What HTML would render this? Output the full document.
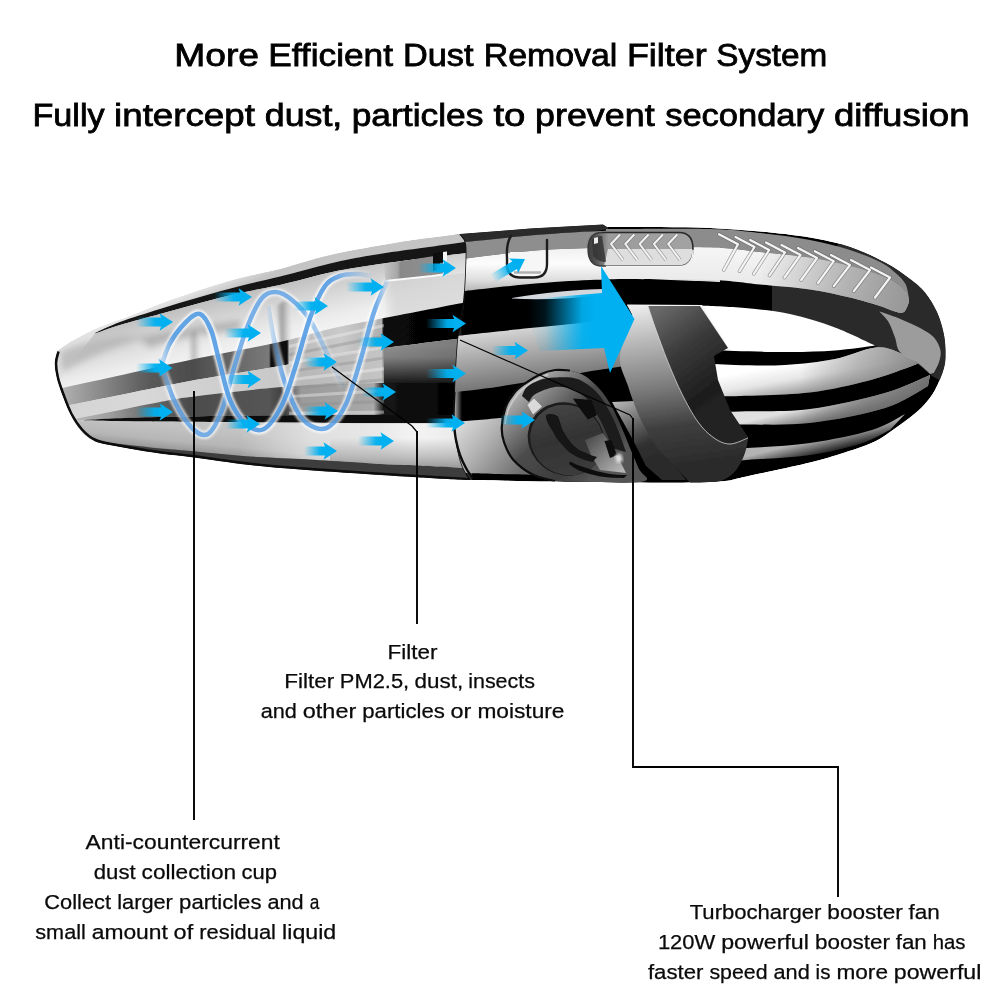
<!DOCTYPE html>
<html lang="en">
<head>
<meta charset="utf-8">
<title>More Efficient Dust Removal Filter System</title>
<style>
html,body{margin:0;padding:0;background:#fff;}
body{width:1000px;height:1000px;overflow:hidden;position:relative;}
svg{display:block;position:absolute;left:0;top:0;}
text{font-family:"Liberation Sans",sans-serif;fill:#000;}
.t1 text{font-size:32px;stroke:#000;stroke-width:0.8px;}
.t2 text{font-size:20.5px;fill:#0a0a0a;stroke:#0a0a0a;stroke-width:0.25px;}
</style>
</head>
<body>
<svg width="1000" height="1000" viewBox="0 0 1000 1000">
<defs>
<filter id="b1" x="-5%" y="-5%" width="110%" height="110%"><feGaussianBlur stdDeviation="0.6"/></filter>
<filter id="b1g" x="-10%" y="-10%" width="120%" height="120%"><feGaussianBlur stdDeviation="1.1"/></filter>
<filter id="b2" x="-10%" y="-10%" width="120%" height="120%"><feGaussianBlur stdDeviation="1.5"/></filter>
<filter id="b3" x="-20%" y="-20%" width="140%" height="140%"><feGaussianBlur stdDeviation="3"/></filter>
<filter id="b5" x="-30%" y="-30%" width="160%" height="160%"><feGaussianBlur stdDeviation="5"/></filter>
<clipPath id="cl_all"><path d="M57 351C59.2 349.5 65.3 344.8 70 342C74.7 339.2 80 336.5 85 334C90 331.5 92.5 330 100 327C107.5 324 120 319.8 130 316C140 312.2 148.3 308.3 160 304C171.7 299.7 186.7 294.3 200 290C213.3 285.7 226.7 281.5 240 278C253.3 274.5 265 272.8 280 269C295 265.2 310 259.5 330 255C350 250.5 378.3 245.5 400 242C421.7 238.5 450 235.3 460 234L530 228.5L603 224.5L607 227C615.8 227 642.8 226.8 660 227C677.2 227.2 693.3 227.2 710 228C726.7 228.8 743.3 229.9 760 231.5C776.7 233.1 795 234.9 810 237.5C825 240.1 837.5 242.8 850 247C862.5 251.2 875 257.2 885 262.5C895 267.8 903.3 274 910 279C916.7 284 920.5 287 925 292.5C929.5 298 933.9 305.3 937 312C940.1 318.7 942.1 326.2 943.5 332.5C944.9 338.8 945.4 344.1 945.5 350C945.6 355.9 945.8 361.3 944 368C942.2 374.7 938.3 383.8 935 390C931.7 396.2 928.2 400.4 924 405C919.8 409.6 915.7 413 910 417.5C904.3 422 896.2 427.8 890 432C883.8 436.2 880.8 438.8 872.5 442.5C864.2 446.2 850.4 450.7 840 454C829.6 457.3 821.3 459.7 810 462.5C798.7 465.3 783.7 468.4 772 471C760.3 473.6 747.8 476.3 740 478C732.2 479.7 732.5 480.2 725 481C717.5 481.8 710.8 482.2 695 482.5C679.2 482.8 654.2 482.7 630 482.5C605.8 482.3 576.7 481.9 550 481.5C523.3 481.1 483.3 480.2 470 480C461.7 480 435 478.4 420 477.5C405 476.6 391.7 475.8 380 475C368.3 474.2 363.3 473.9 350 473C336.7 472.1 316.7 470.8 300 469.5C283.3 468.2 268.3 467.1 250 465C231.7 462.9 205 458.9 190 457C175 455.1 168.8 454.7 160 453.5C151.2 452.3 145 451.2 137.5 450C130 448.8 122.2 447.5 115 446C107.8 444.5 99.8 443.6 94 441C88.2 438.4 84.5 435 80.5 430.5C76.5 426 73 419.8 70 414C67 408.2 64.8 402 62.5 396C60.2 390 57.8 383.5 56.5 378C55.2 372.5 54.4 367.5 54.5 363C54.6 358.5 56.6 353 57 351Z"/></clipPath>
<clipPath id="cl_cup"><path d="M57 351C59.2 349.5 65.3 344.8 70 342C74.7 339.2 80 336.5 85 334C90 331.5 92.5 330 100 327C107.5 324 120 319.8 130 316C140 312.2 148.3 308.3 160 304C171.7 299.7 186.7 294.3 200 290C213.3 285.7 226.7 281.5 240 278C253.3 274.5 265 272.8 280 269C295 265.2 310 259.5 330 255C350 250.5 378.3 245.5 400 242C421.7 238.5 450 235.3 460 234L460 234C461 235.7 465 238 466 244C467 250 466.3 260.7 466 270C465.7 279.3 465.3 288.3 464 300C462.7 311.7 459.5 325 458 340C456.5 355 455.7 376.7 455 390C454.3 403.3 453.7 410.8 454 420C454.3 429.2 455.7 437.5 457 445C458.3 452.5 459.8 459.2 462 465C464.2 470.8 468.7 477.5 470 480L470 480.5C461.7 480 435 478.4 420 477.5C405 476.6 391.7 475.8 380 475C368.3 474.2 363.3 473.9 350 473C336.7 472.1 316.7 470.8 300 469.5C283.3 468.2 268.3 467.1 250 465C231.7 462.9 205 458.9 190 457C175 455.1 168.8 454.7 160 453.5C151.2 452.3 145 451.2 137.5 450C130 448.8 122.2 447.5 115 446C107.8 444.5 99.8 443.6 94 441C88.2 438.4 84.5 435 80.5 430.5C76.5 426 73 419.8 70 414C67 408.2 64.8 402 62.5 396C60.2 390 57.8 383.5 56.5 378C55.2 372.5 54.4 367.5 54.5 363C54.6 358.5 56.6 353 57 351Z"/></clipPath>
<linearGradient id="gBase" x1="452" y1="0" x2="462" y2="0" gradientUnits="userSpaceOnUse"><stop offset="0" stop-color="#e6e6e6"/><stop offset="1" stop-color="#000"/></linearGradient>
<linearGradient id="gCupBase" x1="0" y1="0" x2="0" y2="1" gradientUnits="objectBoundingBox"><stop offset="0" stop-color="#fff"/><stop offset="1" stop-color="#d4d4d4"/></linearGradient>
<linearGradient id="gA" x1="120" y1="300" x2="132" y2="330" gradientUnits="userSpaceOnUse"><stop offset="0" stop-color="#ffffff"/><stop offset="0.5" stop-color="#ececec"/><stop offset="1" stop-color="#c4c4c4"/></linearGradient>
<linearGradient id="gC" x1="200" y1="300" x2="216" y2="365" gradientUnits="userSpaceOnUse"><stop offset="0" stop-color="#bcbcbc"/><stop offset="0.35" stop-color="#d6d6d6"/><stop offset="0.7" stop-color="#ececec"/><stop offset="1" stop-color="#f6f6f6"/></linearGradient>
<linearGradient id="gTube" x1="276" y1="0" x2="294" y2="0" gradientUnits="userSpaceOnUse"><stop offset="0" stop-color="#8a8a8a" stop-opacity="0.2"/><stop offset="0.35" stop-color="#8a8a8a" stop-opacity="0.75"/><stop offset="0.7" stop-color="#c8c8c8" stop-opacity="0.5"/><stop offset="1" stop-color="#fff" stop-opacity="0"/></linearGradient>
<linearGradient id="gTube2" x1="188" y1="0" x2="204" y2="0" gradientUnits="userSpaceOnUse"><stop offset="0" stop-color="#9a9a9a" stop-opacity="0.1"/><stop offset="0.4" stop-color="#9a9a9a" stop-opacity="0.6"/><stop offset="1" stop-color="#fff" stop-opacity="0"/></linearGradient>
<linearGradient id="gFt" x1="384" y1="0" x2="450" y2="0" gradientUnits="userSpaceOnUse"><stop offset="0" stop-color="#c4c4c4"/><stop offset="0.2" stop-color="#a8a8a8"/><stop offset="0.25" stop-color="#8a8a8a"/><stop offset="0.7" stop-color="#8e8e8e"/><stop offset="1" stop-color="#8a8a8a"/></linearGradient>
<linearGradient id="gCr" x1="384" y1="0" x2="470" y2="0" gradientUnits="userSpaceOnUse"><stop offset="0" stop-color="#bbb" stop-opacity="0"/><stop offset="0.15" stop-color="#ccc" stop-opacity="0.6"/><stop offset="1" stop-color="#d4d4d4" stop-opacity="0.75"/></linearGradient>
<linearGradient id="gD" x1="60" y1="0" x2="462" y2="0" gradientUnits="userSpaceOnUse"><stop offset="0" stop-color="#b4b4b4"/><stop offset="0.06" stop-color="#9a9a9a"/><stop offset="0.14" stop-color="#7a7a7a"/><stop offset="0.22" stop-color="#5a5a5a"/><stop offset="0.33" stop-color="#4c4c4c"/><stop offset="0.42" stop-color="#636363"/><stop offset="0.52" stop-color="#7a7a7a"/><stop offset="0.525" stop-color="#0c0c0c"/><stop offset="0.565" stop-color="#0c0c0c"/><stop offset="0.57" stop-color="#b8b8b8"/><stop offset="0.7" stop-color="#cacaca"/><stop offset="0.8" stop-color="#b0b0b0"/><stop offset="0.805" stop-color="#0a0a0a"/><stop offset="1" stop-color="#000"/></linearGradient>
<linearGradient id="gE" x1="60" y1="0" x2="462" y2="0" gradientUnits="userSpaceOnUse"><stop offset="0" stop-color="#d4d4d4"/><stop offset="0.2" stop-color="#d8d8d8"/><stop offset="0.4" stop-color="#cecece"/><stop offset="0.56" stop-color="#c8c8c8"/><stop offset="0.6" stop-color="#b8b8b8"/><stop offset="0.8" stop-color="#c4c4c4"/><stop offset="0.805" stop-color="#909090"/><stop offset="1" stop-color="#7a7a7a"/></linearGradient>
<linearGradient id="gEr" x1="0" y1="345" x2="0" y2="386" gradientUnits="userSpaceOnUse"><stop offset="0" stop-color="#000" stop-opacity="0"/><stop offset="0.3" stop-color="#000" stop-opacity="0.1"/><stop offset="1" stop-color="#000" stop-opacity="0.9"/></linearGradient>
<linearGradient id="gF" x1="60" y1="0" x2="462" y2="0" gradientUnits="userSpaceOnUse"><stop offset="0" stop-color="#c0c0c0"/><stop offset="0.12" stop-color="#a0a0a0"/><stop offset="0.22" stop-color="#6a6a6a"/><stop offset="0.32" stop-color="#4c4c4c"/><stop offset="0.52" stop-color="#555"/><stop offset="0.56" stop-color="#3c3c3c"/><stop offset="0.6" stop-color="#9a9a9a"/><stop offset="0.78" stop-color="#a8a8a8"/><stop offset="0.805" stop-color="#151515"/><stop offset="1" stop-color="#000"/></linearGradient>
<clipPath id="cl_filt"><path d="M289 341L384 319L384 416L289 416Z"/></clipPath>
<linearGradient id="gH" x1="250" y1="422" x2="246" y2="462" gradientUnits="userSpaceOnUse"><stop offset="0" stop-color="#c6c6c6"/><stop offset="0.3" stop-color="#c2c2c2"/><stop offset="0.65" stop-color="#b6b6b6"/><stop offset="0.85" stop-color="#9c9c9c"/><stop offset="1" stop-color="#4a4a4a"/></linearGradient>
<linearGradient id="gHr" x1="240" y1="0" x2="472" y2="0" gradientUnits="userSpaceOnUse"><stop offset="0" stop-color="#fff" stop-opacity="0"/><stop offset="0.3" stop-color="#fff" stop-opacity="0.45"/><stop offset="0.6" stop-color="#fff" stop-opacity="0.6"/><stop offset="0.75" stop-color="#fff" stop-opacity="0.8"/><stop offset="1" stop-color="#fff" stop-opacity="0.6"/></linearGradient>
<linearGradient id="gHv" x1="0" y1="438" x2="0" y2="468" gradientUnits="userSpaceOnUse"><stop offset="0" stop-color="#9a9a9a" stop-opacity="0"/><stop offset="0.6" stop-color="#9c9c9c" stop-opacity="0.55"/><stop offset="1" stop-color="#909090" stop-opacity="0.9"/></linearGradient>
<clipPath id="cl_body"><path d="M460 234C461 235.7 465 238 466 244C467 250 466.3 260.7 466 270C465.7 279.3 465.3 288.3 464 300C462.7 311.7 459.5 325 458 340C456.5 355 455.7 376.7 455 390C454.3 403.3 453.7 410.8 454 420C454.3 429.2 455.7 437.5 457 445C458.3 452.5 459.8 459.2 462 465C464.2 470.8 468.7 477.5 470 480L720 490L720 215L460 215Z"/></clipPath>
<linearGradient id="gBl" x1="0" y1="250" x2="0" y2="290" gradientUnits="userSpaceOnUse"><stop offset="0" stop-color="#f2f2f2"/><stop offset="0.35" stop-color="#fcfcfc"/><stop offset="0.75" stop-color="#dedede"/><stop offset="1" stop-color="#b8b8b8"/></linearGradient>
<linearGradient id="gBg" x1="540" y1="325" x2="548" y2="385" gradientUnits="userSpaceOnUse"><stop offset="0" stop-color="#d6d6d6"/><stop offset="0.35" stop-color="#b0b0b0"/><stop offset="1" stop-color="#6e6e6e"/></linearGradient>
<linearGradient id="gBb" x1="456" y1="420" x2="520" y2="475" gradientUnits="userSpaceOnUse"><stop offset="0" stop-color="#e0e0e0"/><stop offset="0.45" stop-color="#b0b0b0"/><stop offset="1" stop-color="#6c6c6c"/></linearGradient>
<linearGradient id="gHs" x1="0" y1="0" x2="0" y2="1" gradientUnits="objectBoundingBox"><stop offset="0" stop-color="#f6f6f6"/><stop offset="0.6" stop-color="#e8e8e8"/><stop offset="1" stop-color="#c6c6c6"/></linearGradient>
<linearGradient id="gHsr" x1="760" y1="0" x2="905" y2="0" gradientUnits="userSpaceOnUse"><stop offset="0" stop-color="#9a9a9a" stop-opacity="0"/><stop offset="0.6" stop-color="#9c9c9c" stop-opacity="0.7"/><stop offset="1" stop-color="#989898" stop-opacity="1"/></linearGradient>
<linearGradient id="gW1" x1="800" y1="362" x2="806" y2="396" gradientUnits="userSpaceOnUse"><stop offset="0" stop-color="#ffffff"/><stop offset="0.45" stop-color="#e6e6e6"/><stop offset="1" stop-color="#8e8e8e"/></linearGradient>
<linearGradient id="gW1r" x1="800" y1="0" x2="920" y2="0" gradientUnits="userSpaceOnUse"><stop offset="0" stop-color="#8a8a8a" stop-opacity="0"/><stop offset="0.5" stop-color="#909090" stop-opacity="0.6"/><stop offset="1" stop-color="#808080" stop-opacity="0.9"/></linearGradient>
<linearGradient id="gW2" x1="800" y1="409" x2="804" y2="426" gradientUnits="userSpaceOnUse"><stop offset="0" stop-color="#e0e0e0"/><stop offset="1" stop-color="#707070"/></linearGradient>
<linearGradient id="gW2r" x1="800" y1="0" x2="930" y2="0" gradientUnits="userSpaceOnUse"><stop offset="0" stop-color="#6e6e6e" stop-opacity="0"/><stop offset="0.5" stop-color="#707070" stop-opacity="0.65"/><stop offset="1" stop-color="#6a6a6a" stop-opacity="0.95"/></linearGradient>
<linearGradient id="gW3" x1="800" y1="443" x2="804" y2="459" gradientUnits="userSpaceOnUse"><stop offset="0" stop-color="#b4b4b4"/><stop offset="0.5" stop-color="#6a6a6a"/><stop offset="1" stop-color="#1e1e1e"/></linearGradient>
<linearGradient id="gS" x1="620" y1="400" x2="650" y2="466" gradientUnits="userSpaceOnUse"><stop offset="0" stop-color="#b4b4b4"/><stop offset="0.45" stop-color="#5a5a5a"/><stop offset="0.7" stop-color="#303030"/><stop offset="1" stop-color="#2a2a2a"/></linearGradient>
<linearGradient id="gFanO" x1="510" y1="395" x2="590" y2="480" gradientUnits="userSpaceOnUse"><stop offset="0" stop-color="#b8b8b8"/><stop offset="0.18" stop-color="#8a8a8a"/><stop offset="0.45" stop-color="#4c4c4c"/><stop offset="0.8" stop-color="#3c3c3c"/><stop offset="1" stop-color="#555"/></linearGradient>
<linearGradient id="gFanT" x1="540" y1="372" x2="600" y2="392" gradientUnits="userSpaceOnUse"><stop offset="0" stop-color="#6a6a6a"/><stop offset="1" stop-color="#444"/></linearGradient>
<linearGradient id="gFanI" x1="535" y1="405" x2="600" y2="470" gradientUnits="userSpaceOnUse"><stop offset="0" stop-color="#4a4a4a"/><stop offset="0.5" stop-color="#333"/><stop offset="1" stop-color="#3e3e3e"/></linearGradient>
<linearGradient id="gFanL" x1="588" y1="436" x2="622" y2="470" gradientUnits="userSpaceOnUse"><stop offset="0" stop-color="#4a4a4a"/><stop offset="0.6" stop-color="#8a8a8a"/><stop offset="1" stop-color="#b4b4b4"/></linearGradient>
<linearGradient id="gGrip" x1="640" y1="306" x2="662" y2="470" gradientUnits="userSpaceOnUse"><stop offset="0" stop-color="#ececec"/><stop offset="0.2" stop-color="#bcbcbc"/><stop offset="0.5" stop-color="#7c7c7c"/><stop offset="0.75" stop-color="#3e3e3e"/><stop offset="1" stop-color="#2a2a2a"/></linearGradient>
<linearGradient id="gGrip2" x1="655" y1="310" x2="735" y2="420" gradientUnits="userSpaceOnUse"><stop offset="0" stop-color="#6a6a6a"/><stop offset="0.35" stop-color="#3a3a3a"/><stop offset="0.7" stop-color="#1e1e1e"/><stop offset="1" stop-color="#242424"/></linearGradient>
<linearGradient id="gSl" x1="588" y1="0" x2="692" y2="0" gradientUnits="userSpaceOnUse"><stop offset="0" stop-color="#3a3a3a"/><stop offset="0.08" stop-color="#555"/><stop offset="0.17" stop-color="#8c8c8c"/><stop offset="0.2" stop-color="#9c9c9c"/><stop offset="1" stop-color="#a2a2a2"/></linearGradient>
<linearGradient id="hw0" x1="156" y1="0" x2="347" y2="0" gradientUnits="userSpaceOnUse"><stop offset="0" stop-color="#ffffff" stop-opacity="0"/><stop offset="0.08" stop-color="#ffffff" stop-opacity="0.68"/><stop offset="0.75" stop-color="#ffffff" stop-opacity="0.68"/><stop offset="1" stop-color="#ffffff" stop-opacity="0"/></linearGradient>
<linearGradient id="hb0" x1="156" y1="0" x2="347" y2="0" gradientUnits="userSpaceOnUse"><stop offset="0" stop-color="#3088e0" stop-opacity="0"/><stop offset="0.08" stop-color="#3088e0" stop-opacity="0.629"/><stop offset="0.75" stop-color="#3088e0" stop-opacity="0.629"/><stop offset="1" stop-color="#3088e0" stop-opacity="0"/></linearGradient>
<linearGradient id="hw1" x1="265" y1="0" x2="391" y2="0" gradientUnits="userSpaceOnUse"><stop offset="0" stop-color="#ffffff" stop-opacity="0"/><stop offset="0.15" stop-color="#ffffff" stop-opacity="0.7200000000000001"/><stop offset="0.88" stop-color="#ffffff" stop-opacity="0.7200000000000001"/><stop offset="1" stop-color="#ffffff" stop-opacity="0"/></linearGradient>
<linearGradient id="hb1" x1="265" y1="0" x2="391" y2="0" gradientUnits="userSpaceOnUse"><stop offset="0" stop-color="#3088e0" stop-opacity="0"/><stop offset="0.15" stop-color="#3088e0" stop-opacity="0.666"/><stop offset="0.88" stop-color="#3088e0" stop-opacity="0.666"/><stop offset="1" stop-color="#3088e0" stop-opacity="0"/></linearGradient>
<linearGradient id="hw2" x1="156" y1="0" x2="375" y2="0" gradientUnits="userSpaceOnUse"><stop offset="0" stop-color="#ffffff" stop-opacity="0"/><stop offset="0.08" stop-color="#ffffff" stop-opacity="0.8"/><stop offset="0.8" stop-color="#ffffff" stop-opacity="0.8"/><stop offset="1" stop-color="#ffffff" stop-opacity="0"/></linearGradient>
<linearGradient id="hb2" x1="156" y1="0" x2="375" y2="0" gradientUnits="userSpaceOnUse"><stop offset="0" stop-color="#3088e0" stop-opacity="0"/><stop offset="0.08" stop-color="#3088e0" stop-opacity="0.74"/><stop offset="0.8" stop-color="#3088e0" stop-opacity="0.74"/><stop offset="1" stop-color="#3088e0" stop-opacity="0"/></linearGradient>
<linearGradient id="ga44" x1="214" y1="0" x2="240" y2="0" gradientUnits="userSpaceOnUse"><stop offset="0" stop-color="#00b0f0" stop-opacity="0"/><stop offset="0.75" stop-color="#00b0f0" stop-opacity="0.95"/><stop offset="1" stop-color="#00b0f0" stop-opacity="1"/></linearGradient>
<linearGradient id="ga45" x1="136" y1="0" x2="161" y2="0" gradientUnits="userSpaceOnUse"><stop offset="0" stop-color="#00b0f0" stop-opacity="0"/><stop offset="0.75" stop-color="#00b0f0" stop-opacity="0.95"/><stop offset="1" stop-color="#00b0f0" stop-opacity="1"/></linearGradient>
<linearGradient id="ga46" x1="136" y1="0" x2="160.5" y2="0" gradientUnits="userSpaceOnUse"><stop offset="0" stop-color="#00b0f0" stop-opacity="0"/><stop offset="0.75" stop-color="#00b0f0" stop-opacity="0.95"/><stop offset="1" stop-color="#00b0f0" stop-opacity="1"/></linearGradient>
<linearGradient id="ga47" x1="136" y1="0" x2="161" y2="0" gradientUnits="userSpaceOnUse"><stop offset="0" stop-color="#00b0f0" stop-opacity="0"/><stop offset="0.75" stop-color="#00b0f0" stop-opacity="0.95"/><stop offset="1" stop-color="#00b0f0" stop-opacity="1"/></linearGradient>
<linearGradient id="ga48" x1="224" y1="0" x2="249" y2="0" gradientUnits="userSpaceOnUse"><stop offset="0" stop-color="#00b0f0" stop-opacity="0"/><stop offset="0.75" stop-color="#00b0f0" stop-opacity="0.95"/><stop offset="1" stop-color="#00b0f0" stop-opacity="1"/></linearGradient>
<linearGradient id="ga49" x1="226" y1="0" x2="249" y2="0" gradientUnits="userSpaceOnUse"><stop offset="0" stop-color="#00b0f0" stop-opacity="0"/><stop offset="0.75" stop-color="#00b0f0" stop-opacity="0.95"/><stop offset="1" stop-color="#00b0f0" stop-opacity="1"/></linearGradient>
<linearGradient id="ga50" x1="226" y1="0" x2="248" y2="0" gradientUnits="userSpaceOnUse"><stop offset="0" stop-color="#00b0f0" stop-opacity="0"/><stop offset="0.75" stop-color="#00b0f0" stop-opacity="0.95"/><stop offset="1" stop-color="#00b0f0" stop-opacity="1"/></linearGradient>
<linearGradient id="ga51" x1="294" y1="0" x2="316" y2="0" gradientUnits="userSpaceOnUse"><stop offset="0" stop-color="#00b0f0" stop-opacity="0"/><stop offset="0.75" stop-color="#00b0f0" stop-opacity="0.95"/><stop offset="1" stop-color="#00b0f0" stop-opacity="1"/></linearGradient>
<linearGradient id="ga52" x1="304" y1="0" x2="325" y2="0" gradientUnits="userSpaceOnUse"><stop offset="0" stop-color="#00b0f0" stop-opacity="0"/><stop offset="0.75" stop-color="#00b0f0" stop-opacity="0.95"/><stop offset="1" stop-color="#00b0f0" stop-opacity="1"/></linearGradient>
<linearGradient id="ga53" x1="304" y1="0" x2="326" y2="0" gradientUnits="userSpaceOnUse"><stop offset="0" stop-color="#00b0f0" stop-opacity="0"/><stop offset="0.75" stop-color="#00b0f0" stop-opacity="0.95"/><stop offset="1" stop-color="#00b0f0" stop-opacity="1"/></linearGradient>
<linearGradient id="ga54" x1="304" y1="0" x2="325" y2="0" gradientUnits="userSpaceOnUse"><stop offset="0" stop-color="#00b0f0" stop-opacity="0"/><stop offset="0.75" stop-color="#00b0f0" stop-opacity="0.95"/><stop offset="1" stop-color="#00b0f0" stop-opacity="1"/></linearGradient>
<linearGradient id="ga55" x1="346" y1="0" x2="372" y2="0" gradientUnits="userSpaceOnUse"><stop offset="0" stop-color="#00b0f0" stop-opacity="0"/><stop offset="0.75" stop-color="#00b0f0" stop-opacity="0.95"/><stop offset="1" stop-color="#00b0f0" stop-opacity="1"/></linearGradient>
<linearGradient id="ga56" x1="358" y1="0" x2="382" y2="0" gradientUnits="userSpaceOnUse"><stop offset="0" stop-color="#00b0f0" stop-opacity="0"/><stop offset="0.75" stop-color="#00b0f0" stop-opacity="0.95"/><stop offset="1" stop-color="#00b0f0" stop-opacity="1"/></linearGradient>
<linearGradient id="ga57" x1="362" y1="0" x2="384" y2="0" gradientUnits="userSpaceOnUse"><stop offset="0" stop-color="#00b0f0" stop-opacity="0"/><stop offset="0.75" stop-color="#00b0f0" stop-opacity="0.95"/><stop offset="1" stop-color="#00b0f0" stop-opacity="1"/></linearGradient>
<linearGradient id="ga58" x1="358" y1="0" x2="382" y2="0" gradientUnits="userSpaceOnUse"><stop offset="0" stop-color="#00b0f0" stop-opacity="0"/><stop offset="0.75" stop-color="#00b0f0" stop-opacity="0.95"/><stop offset="1" stop-color="#00b0f0" stop-opacity="1"/></linearGradient>
<linearGradient id="ga59" x1="418" y1="0" x2="444" y2="0" gradientUnits="userSpaceOnUse"><stop offset="0" stop-color="#00b0f0" stop-opacity="0"/><stop offset="0.75" stop-color="#00b0f0" stop-opacity="0.95"/><stop offset="1" stop-color="#00b0f0" stop-opacity="1"/></linearGradient>
<linearGradient id="ga60" x1="426" y1="0" x2="454" y2="0" gradientUnits="userSpaceOnUse"><stop offset="0" stop-color="#00b0f0" stop-opacity="0"/><stop offset="0.75" stop-color="#00b0f0" stop-opacity="0.95"/><stop offset="1" stop-color="#00b0f0" stop-opacity="1"/></linearGradient>
<linearGradient id="ga61" x1="426" y1="0" x2="454" y2="0" gradientUnits="userSpaceOnUse"><stop offset="0" stop-color="#00b0f0" stop-opacity="0"/><stop offset="0.75" stop-color="#00b0f0" stop-opacity="0.95"/><stop offset="1" stop-color="#00b0f0" stop-opacity="1"/></linearGradient>
<linearGradient id="ga62" x1="426" y1="0" x2="453" y2="0" gradientUnits="userSpaceOnUse"><stop offset="0" stop-color="#00b0f0" stop-opacity="0"/><stop offset="0.75" stop-color="#00b0f0" stop-opacity="0.95"/><stop offset="1" stop-color="#00b0f0" stop-opacity="1"/></linearGradient>
<linearGradient id="ga63" x1="492" y1="0" x2="516" y2="0" gradientUnits="userSpaceOnUse"><stop offset="0" stop-color="#00b0f0" stop-opacity="0"/><stop offset="0.75" stop-color="#00b0f0" stop-opacity="0.95"/><stop offset="1" stop-color="#00b0f0" stop-opacity="1"/></linearGradient>
<linearGradient id="ga64" x1="500" y1="0" x2="523" y2="0" gradientUnits="userSpaceOnUse"><stop offset="0" stop-color="#00b0f0" stop-opacity="0"/><stop offset="0.75" stop-color="#00b0f0" stop-opacity="0.95"/><stop offset="1" stop-color="#00b0f0" stop-opacity="1"/></linearGradient>
<linearGradient id="ga65" x1="487" y1="0" x2="513" y2="0" gradientUnits="userSpaceOnUse"><stop offset="0" stop-color="#00b0f0" stop-opacity="0"/><stop offset="0.75" stop-color="#00b0f0" stop-opacity="0.95"/><stop offset="1" stop-color="#00b0f0" stop-opacity="1"/></linearGradient>
<linearGradient id="gBig" x1="528" y1="0" x2="596" y2="0" gradientUnits="userSpaceOnUse"><stop offset="0" stop-color="#00b0f0" stop-opacity="0"/><stop offset="0.25" stop-color="#00b0f0" stop-opacity="0.12"/><stop offset="0.8" stop-color="#00b0f0" stop-opacity="0.95"/><stop offset="1" stop-color="#00b0f0" stop-opacity="1"/></linearGradient>
</defs>
<rect width="1000" height="1000" fill="#fff"/>
<g id="vac" filter="url(#b1)">
<g clip-path="url(#cl_all)">
<path d="M57 351C59.2 349.5 65.3 344.8 70 342C74.7 339.2 80 336.5 85 334C90 331.5 92.5 330 100 327C107.5 324 120 319.8 130 316C140 312.2 148.3 308.3 160 304C171.7 299.7 186.7 294.3 200 290C213.3 285.7 226.7 281.5 240 278C253.3 274.5 265 272.8 280 269C295 265.2 310 259.5 330 255C350 250.5 378.3 245.5 400 242C421.7 238.5 450 235.3 460 234L530 228.5L603 224.5L607 227C615.8 227 642.8 226.8 660 227C677.2 227.2 693.3 227.2 710 228C726.7 228.8 743.3 229.9 760 231.5C776.7 233.1 795 234.9 810 237.5C825 240.1 837.5 242.8 850 247C862.5 251.2 875 257.2 885 262.5C895 267.8 903.3 274 910 279C916.7 284 920.5 287 925 292.5C929.5 298 933.9 305.3 937 312C940.1 318.7 942.1 326.2 943.5 332.5C944.9 338.8 945.4 344.1 945.5 350C945.6 355.9 945.8 361.3 944 368C942.2 374.7 938.3 383.8 935 390C931.7 396.2 928.2 400.4 924 405C919.8 409.6 915.7 413 910 417.5C904.3 422 896.2 427.8 890 432C883.8 436.2 880.8 438.8 872.5 442.5C864.2 446.2 850.4 450.7 840 454C829.6 457.3 821.3 459.7 810 462.5C798.7 465.3 783.7 468.4 772 471C760.3 473.6 747.8 476.3 740 478C732.2 479.7 732.5 480.2 725 481C717.5 481.8 710.8 482.2 695 482.5C679.2 482.8 654.2 482.7 630 482.5C605.8 482.3 576.7 481.9 550 481.5C523.3 481.1 483.3 480.2 470 480C461.7 480 435 478.4 420 477.5C405 476.6 391.7 475.8 380 475C368.3 474.2 363.3 473.9 350 473C336.7 472.1 316.7 470.8 300 469.5C283.3 468.2 268.3 467.1 250 465C231.7 462.9 205 458.9 190 457C175 455.1 168.8 454.7 160 453.5C151.2 452.3 145 451.2 137.5 450C130 448.8 122.2 447.5 115 446C107.8 444.5 99.8 443.6 94 441C88.2 438.4 84.5 435 80.5 430.5C76.5 426 73 419.8 70 414C67 408.2 64.8 402 62.5 396C60.2 390 57.8 383.5 56.5 378C55.2 372.5 54.4 367.5 54.5 363C54.6 358.5 56.6 353 57 351Z" fill="url(#gBase)"/>
<g clip-path="url(#cl_cup)">
<path d="M57 351C59.2 349.5 65.3 344.8 70 342C74.7 339.2 80 336.5 85 334C90 331.5 92.5 330 100 327C107.5 324 120 319.8 130 316C140 312.2 148.3 308.3 160 304C171.7 299.7 186.7 294.3 200 290C213.3 285.7 226.7 281.5 240 278C253.3 274.5 265 272.8 280 269C295 265.2 310 259.5 330 255C350 250.5 378.3 245.5 400 242C421.7 238.5 450 235.3 460 234L460 234C461 235.7 465 238 466 244C467 250 466.3 260.7 466 270C465.7 279.3 465.3 288.3 464 300C462.7 311.7 459.5 325 458 340C456.5 355 455.7 376.7 455 390C454.3 403.3 453.7 410.8 454 420C454.3 429.2 455.7 437.5 457 445C458.3 452.5 459.8 459.2 462 465C464.2 470.8 468.7 477.5 470 480L470 480.5C461.7 480 435 478.4 420 477.5C405 476.6 391.7 475.8 380 475C368.3 474.2 363.3 473.9 350 473C336.7 472.1 316.7 470.8 300 469.5C283.3 468.2 268.3 467.1 250 465C231.7 462.9 205 458.9 190 457C175 455.1 168.8 454.7 160 453.5C151.2 452.3 145 451.2 137.5 450C130 448.8 122.2 447.5 115 446C107.8 444.5 99.8 443.6 94 441C88.2 438.4 84.5 435 80.5 430.5C76.5 426 73 419.8 70 414C67 408.2 64.8 402 62.5 396C60.2 390 57.8 383.5 56.5 378C55.2 372.5 54.4 367.5 54.5 363C54.6 358.5 56.6 353 57 351Z" fill="#e2e2e2"/>
<path d="M40 345C50 340.5 73.3 328.5 100 318C126.7 307.5 161.7 293.8 200 282C238.3 270.2 284.7 256.7 330 247C375.3 237.3 448.3 227.8 472 224L472 241C461.7 242.4 427 247.1 410 249.5C393 251.9 383.3 253.2 370 255.5C356.7 257.8 345 260 330 263.5C315 267 295 272.8 280 276.5C265 280.2 253.3 282.6 240 286C226.7 289.4 213.3 293.2 200 297C186.7 300.8 173.3 304.8 160 309C146.7 313.2 130.8 318 120 322C109.2 326 99.2 331.2 95 333Z" fill="url(#gA)"/>
<path d="M95 333C99.2 331.2 109.2 326 120 322C130.8 318 146.7 313.2 160 309C173.3 304.8 186.7 300.8 200 297C213.3 293.2 226.7 289.4 240 286C253.3 282.6 265 280.2 280 276.5C295 272.8 315 267 330 263.5C345 260 356.7 257.8 370 255.5C383.3 253.2 393 251.9 410 249.5C427 247.1 461.7 242.4 472 241L472 252.5C461.7 253.8 427 257.8 410 260C393 262.2 383.3 263.4 370 265.5C356.7 267.6 345 269.2 330 272.5C315 275.8 295 281.6 280 285C265 288.4 253.3 290 240 293C226.7 296 213.3 299.5 200 303C186.7 306.5 173.3 310.3 160 314C146.7 317.7 130.8 321.7 120 325C109.2 328.3 99.2 332.2 95 333.6Z" fill="#161616"/>
<path d="M95 333.6C99.2 332.2 109.2 328.3 120 325C130.8 321.7 146.7 317.7 160 314C173.3 310.3 186.7 306.5 200 303C213.3 299.5 226.7 296 240 293C253.3 290 265 288.4 280 285C295 281.6 315 275.8 330 272.5C345 269.2 356.7 267.6 370 265.5C383.3 263.4 393 262.2 410 260C427 257.8 461.7 253.8 472 252.5L472 301C457.3 303.8 407.7 313.3 384 318C360.3 322.7 347.3 325 330 329C312.7 333 303.3 336.8 280 342C256.7 347.2 217.5 354.2 190 360C162.5 365.8 136.2 371.8 115 376.5C93.8 381.2 73.3 385.6 62.5 388C51.7 390.4 52.1 390.5 50 391Z" fill="url(#gC)"/>
<path d="M140 338C160 332 200 326 240 320L240 330C200 334 165 340 150 348Z" fill="#9a9a9a" opacity="0.6" filter="url(#b3)"/>
<path d="M60 352C75 345 95 340 120 336L150 336C120 345 90 356 62 372Z" fill="#b0b0b0" opacity="0.7" filter="url(#b3)"/>
<path d="M277 306Q285 298 293 303L291 342L280 345Z" fill="url(#gTube)" filter="url(#b2)"/>
<path d="M189 336Q196 326 203 332L203 362L190 365Z" fill="url(#gTube2)" filter="url(#b2)"/>
<path d="M384 264L447 254L447 274L432 276L385.500 281Z" fill="url(#gFt)"/>
<path d="M433 253L447 251L447 262L440 263L440 270L433 271Z" fill="#0e0e0e"/>
<path d="M443 252L447 251.500L447 277L443 277.500Z" fill="#f4f4f4"/>
<path d="M385.500 281L432 276L447 274" fill="none" stroke="#fafafa" stroke-width="1.8"/>
<path d="M385.5 282C393.2 281.2 417.6 278.7 432 277C446.4 275.3 465.3 272.8 472 272L472 301C457.3 303.8 398.7 315.2 384 318Z" fill="url(#gCr)"/>
<path d="M50 391C52.1 390.5 51.7 390.4 62.5 388C73.3 385.6 93.8 381.2 115 376.5C136.2 371.8 162.5 365.8 190 360C217.5 354.2 256.7 347.2 280 342C303.3 336.8 312.7 333 330 329C347.3 325 360.3 322.7 384 318C407.7 313.3 457.3 303.8 472 301L472 337C457.3 338.8 407.7 345 384 348C360.3 351 347.3 352 330 355C312.7 358 303.3 361.7 280 366C256.7 370.3 217.5 376 190 381C162.5 386 135 392 115 396C95 400 80.8 402.8 70 405C59.2 407.2 53.3 408.3 50 409Z" fill="url(#gD)"/>
<path d="M50 409C53.3 408.3 59.2 407.2 70 405C80.8 402.8 95 400 115 396C135 392 162.5 386 190 381C217.5 376 256.7 370.3 280 366C303.3 361.7 312.7 358 330 355C347.3 352 360.3 351 384 348C407.7 345 457.3 338.8 472 337L472 383C457.3 383 407.7 382.8 384 383C360.3 383.2 349 383.2 330 384C311 384.8 293.3 385.8 270 388C246.7 390.2 208.3 394.7 190 397C171.7 399.3 172.5 399.7 160 402C147.5 404.3 128.8 408.2 115 411C101.2 413.8 88.3 416.3 77.5 418.5C66.7 420.7 54.6 423.1 50 424Z" fill="url(#gE)"/>
<path d="M384 348C398.7 346.2 457.3 338.8 472 337L462 386C449 386 397 386 384 386Z" fill="url(#gEr)"/>
<path d="M50 424C54.6 423.1 66.7 420.7 77.5 418.5C88.3 416.3 101.2 413.8 115 411C128.8 408.2 147.5 404.3 160 402C172.5 399.7 171.7 399.3 190 397C208.3 394.7 246.7 390.2 270 388C293.3 385.8 311 384.8 330 384C349 383.2 360.3 383.2 384 383C407.7 382.8 457.3 383 472 383L472 415C455.8 415 410.3 414.9 375 415C339.7 415.1 299.2 415.1 260 415.5C220.8 415.9 169.3 416.8 140 417.5C110.7 418.2 93.3 419.6 84 420Z" fill="url(#gF)"/>
<g clip-path="url(#cl_filt)" filter="url(#b1)">
<path d="M286 347L387 324.8" stroke="#f2f2f2" stroke-width="3.2" stroke-opacity="0.4" fill="none"/>
<path d="M286 355.3L387 335.7" stroke="#8c8c8c" stroke-width="3.2" stroke-opacity="0.4" fill="none"/>
<path d="M286 363.6L387 346.6" stroke="#f2f2f2" stroke-width="3.2" stroke-opacity="0.4" fill="none"/>
<path d="M286 371.9L387 357.6" stroke="#8c8c8c" stroke-width="3.2" stroke-opacity="0.4" fill="none"/>
<path d="M286 380.2L387 368.5" stroke="#f2f2f2" stroke-width="3.2" stroke-opacity="0.4" fill="none"/>
<path d="M286 388.5L387 379.4" stroke="#8c8c8c" stroke-width="3.2" stroke-opacity="0.4" fill="none"/>
<path d="M286 396.8L387 390.3" stroke="#f2f2f2" stroke-width="3.2" stroke-opacity="0.4" fill="none"/>
<path d="M286 405.1L387 401.3" stroke="#8c8c8c" stroke-width="3.2" stroke-opacity="0.4" fill="none"/>
<path d="M286 413.4L387 412.2" stroke="#f2f2f2" stroke-width="3.2" stroke-opacity="0.4" fill="none"/>
</g>
<path d="M84 420C93.3 419.6 110.7 418.2 140 417.5C169.3 416.8 220.8 415.9 260 415.5C299.2 415.1 339.7 415.1 375 415C410.3 414.9 455.8 415 472 415L472 423C455.8 423 410.3 423.1 375 423C339.7 422.9 299.2 422.8 260 422.5C220.8 422.2 169.3 421.8 140 421.5C110.7 421.2 93.3 420.7 84 420.5Z" fill="#070707"/>
<path d="M60 421C64 420.9 70.7 420.4 84 420.5C97.3 420.6 110.7 421.2 140 421.5C169.3 421.8 220.8 422.2 260 422.5C299.2 422.8 339.7 422.9 375 423C410.3 423.1 455.8 423 472 423L470 485C455 484 408.3 481 380 479C351.7 477 321.7 474.7 300 473C278.3 471.3 268.3 471 250 469C231.7 467 211.7 464.2 190 461C168.3 457.8 137.2 453.5 120 450C102.8 446.5 97 444.3 87 440C77 435.7 64.5 426.7 60 424Z" fill="url(#gH)"/>
<path d="M240 423C263.3 423.1 341.3 423.4 380 423.5C418.7 423.6 456.7 423.5 472 423.5L472 473C456.7 471.7 400.3 466.8 380 465C359.7 463.2 363.3 463 350 462C336.7 461 318.3 460 300 459C281.7 458 250 456.5 240 456Z" fill="url(#gHr)"/>
<path d="M330 436C353.7 436.3 448.3 437.7 472 438L472 468.5C463.3 468 435.3 466.2 420 465.5C404.7 464.8 395 464.8 380 464C365 463.2 338.3 461.5 330 461Z" fill="url(#gHv)"/>
</g>
<path d="M94 440.5C97.5 441 107.8 442.6 115 443.5C122.2 444.4 130 445.2 137.5 446C145 446.8 151.2 447.7 160 448.5C168.8 449.3 175 449.7 190 451C205 452.3 231.7 455.2 250 456.5C268.3 457.8 283.3 458.1 300 459C316.7 459.9 336.7 461.2 350 462C363.3 462.8 368.3 463.4 380 464C391.7 464.6 404.7 464.8 420 465.5C435.3 466.2 463.3 468 472 468.5L472 481.5C456.7 480.6 400.3 477.2 380 476C359.7 474.8 363.3 474.9 350 474C336.7 473.1 316.7 471.8 300 470.5C283.3 469.2 268.3 468.1 250 466C231.7 463.9 205 459.9 190 458C175 456.1 168.8 455.7 160 454.5C151.2 453.3 145 452.2 137.5 451C130 449.8 122.2 448.5 115 447C107.8 445.5 97.5 442.8 94 442Z" fill="#3c3c3c" filter="url(#b1)"/>
<path d="M58.5 351.5C58.1 353.4 56.1 358.6 56 363C55.9 367.4 56.7 372.5 58 378C59.3 383.5 61.8 390 64 396C66.2 402 68.5 408.4 71.5 414C74.5 419.6 78.1 425.2 82 429.5C85.9 433.8 89.5 437.2 95 439.8C100.5 442.4 107.9 443.3 115 444.8C122.1 446.3 130 447.6 137.5 448.8C145 450.1 151.2 451.1 160 452.3C168.8 453.5 175 453.9 190 455.8C205 457.7 231.7 461.7 250 463.8C268.3 465.9 283.3 467 300 468.3C316.7 469.6 336.7 470.9 350 471.8C363.3 472.7 368.3 473.1 380 473.8C391.7 474.6 405 475.4 420 476.3C435 477.2 461.7 478.8 470 479.3" fill="none" stroke="#0a0a0a" stroke-width="2.6" stroke-linejoin="round"/>
<path d="M460 234C461 235.7 465 238 466 244C467 250 466.3 260.7 466 270C465.7 279.3 465.3 288.3 464 300C462.7 311.7 459.5 325 458 340C456.5 355 455.7 376.7 455 390C454.3 403.3 453.7 410.8 454 420C454.3 429.2 455.7 437.5 457 445C458.3 452.5 459.8 459.2 462 465C464.2 470.8 468.7 477.5 470 480" fill="none" stroke="#111" stroke-width="1.6"/>
<g clip-path="url(#cl_body)">
<path d="M455 220C467.5 219.7 505.8 218.7 530 218C554.2 217.3 587 216.3 600 216C613 215.7 606.7 216 608 216L608 229C605 229.4 603 230.4 590 231.5C577 232.6 552.5 233.6 530 235.5C507.5 237.4 467.5 241.8 455 243Z" fill="#2b2b2b"/>
<path d="M455 243C467.5 241.8 507.5 237.4 530 235.5C552.5 233.6 571.7 232.4 590 231.5C608.3 230.6 618.3 229.9 640 230C661.7 230.1 706.7 231.7 720 232L720 250C706.7 249.7 661.7 248.3 640 248C618.3 247.7 608.3 247.5 590 248C571.7 248.5 552.5 249 530 251C507.5 253 467.5 258.5 455 260Z" fill="#8e8e8e"/>
<path d="M455 260C467.5 258.5 507.5 253 530 251C552.5 249 571.7 248.5 590 248C608.3 247.5 618.3 247.7 640 248C661.7 248.3 706.7 249.7 720 250L720 282C706.7 281.5 661.7 279.3 640 279C618.3 278.7 608.3 279.2 590 280C571.7 280.8 552.5 282 530 284C507.5 286 467.5 290.7 455 292Z" fill="url(#gBl)"/>
<path d="M455 336C467.5 334.7 507.5 330.3 530 328C552.5 325.7 571.7 324.3 590 322C608.3 319.7 631.7 315.3 640 314L640 364C631 365.3 609.3 368.2 586 372C562.7 375.8 521.8 383.2 500 386.5C478.2 389.8 462.5 391.1 455 392Z" fill="url(#gBg)"/>
<path d="M455 422C462.5 421.3 485.8 419.5 500 418C514.2 416.5 523.3 415.3 540 413C556.7 410.7 590 405.5 600 404L600 477C590 476.7 556.7 475.5 540 475C523.3 474.5 514.2 474.3 500 474C485.8 473.7 462.5 473.2 455 473Z" fill="url(#gBb)"/>
<path d="M512 298C545 292 580 289.5 604 289L604 295C570 299 540 300 512 298.6Z" fill="#d4d8dc"/>
</g>
<path d="M772 284L850 238L960 238L960 392L932 376L918 364L900 353L875 346L835 327.500L790 314L772 311Z" fill="#2b2b2b"/>
<path d="M606 229C623.3 229 684.3 228.3 710 229C735.7 229.7 743.3 231.2 760 233C776.7 234.8 795 237.2 810 240C825 242.8 838.3 246.3 850 250C861.7 253.7 872.5 258.2 880 262C887.5 265.8 890.8 268.8 895 272.5C899.2 276.2 903.2 279.8 905.5 284C907.8 288.2 908.4 295.7 909 298L909 300C908.4 298.7 907.8 294.8 905.5 292C903.2 289.2 899.2 285.8 895 283C890.8 280.2 887.5 278.3 880 275.5C872.5 272.7 861.7 269 850 266C838.3 263 825 259.8 810 257.5C795 255.2 776.7 253.7 760 252C743.3 250.3 735.7 248.2 710 247.5C684.3 246.8 623.3 247.9 606 248Z" fill="#8c8c8c"/>
<path d="M606 248C623.3 247.9 684.3 246.8 710 247.5C735.7 248.2 743.3 250.3 760 252C776.7 253.7 795 255.2 810 257.5C825 259.8 838.3 263 850 266C861.7 269 872.5 272.7 880 275.5C887.5 278.3 890.8 280.2 895 283C899.2 285.8 903.2 289.2 905.5 292C907.8 294.8 908.4 298.7 909 300L909 302C908.2 303.7 906.3 310.4 904 312C901.7 313.6 899 312.5 895 311.5C891 310.5 887.5 308.3 880 306C872.5 303.7 861.7 300.2 850 297.5C838.3 294.8 825 291.7 810 289.5C795 287.3 776.7 286.1 760 284.5C743.3 282.9 735.7 280.9 710 280C684.3 279.1 623.3 279.2 606 279Z" fill="url(#gHs)"/>
<path d="M606 248C623.3 247.9 684.3 246.8 710 247.5C735.7 248.2 743.3 250.3 760 252C776.7 253.7 795 255.2 810 257.5C825 259.8 838.3 263 850 266C861.7 269 872.5 272.7 880 275.5C887.5 278.3 890.8 280.2 895 283C899.2 285.8 903.2 289.2 905.5 292C907.8 294.8 908.4 298.7 909 300L909 302C908.2 303.7 906.3 310.4 904 312C901.7 313.6 899 312.5 895 311.5C891 310.5 887.5 308.3 880 306C872.5 303.7 861.7 300.2 850 297.5C838.3 294.8 825 291.7 810 289.5C795 287.3 776.7 286.1 760 284.5C743.3 282.9 735.7 280.9 710 280C684.3 279.1 623.3 279.2 606 279Z" fill="url(#gHsr)"/>
<path d="M719 234.2L738 244.2L723.8 270M735.5 237L754.5 247L739.5 271.2M750.2 240L769.2 250L753.8 273.8M766 242.5L785 252.5L769.5 275.5M781.5 245L800.5 255L784.5 277.5M798 248L817 258L801.2 280M814.8 251.2L833.8 261.2L818 283M831 255L850 265L833.8 286.2M851 260L870 270L853.8 291.2M871 267.5L890 277.5L875 297.5" fill="none" stroke="#555" stroke-width="3.6" stroke-linejoin="round" stroke-linecap="round" opacity="0.55"/>
<path d="M719 234.2L738 244.2L723.8 270M735.5 237L754.5 247L739.5 271.2M750.2 240L769.2 250L753.8 273.8M766 242.5L785 252.5L769.5 275.5M781.5 245L800.5 255L784.5 277.5M798 248L817 258L801.2 280M814.8 251.2L833.8 261.2L818 283M831 255L850 265L833.8 286.2M851 260L870 270L853.8 291.2M871 267.5L890 277.5L875 297.5" fill="none" stroke="#f4f4f4" stroke-width="2.2" stroke-linejoin="round" stroke-linecap="round"/>
<path d="M879.4 311.6C883.1 312.9 894.6 316.6 901.5 319.4C908.4 322.2 915.6 325.5 921 328.5C926.4 331.5 930.8 333.9 934 337.6C937.2 341.3 939.7 346.5 940.5 350.6C941.3 354.7 940.1 358.3 939 362C937.9 365.7 934.8 370.9 934 372.7L930 374C928.1 372.3 923.4 367.3 918.4 363.6C913.4 359.9 903.9 356.3 900 352C896.1 347.7 896.9 342.6 895 337.6C893.1 332.6 891.1 326.3 888.5 322C885.9 317.7 880.9 313.3 879.4 311.6Z" fill="#9c9c9c"/>
<path d="M700 305.5C707.5 305.9 730 306.6 745 308C760 309.4 775 310.8 790 314C805 317.2 820.8 322.2 835 327.5C849.2 332.8 868.3 342.5 875 345.5L875 345.5C868.3 346.3 849.2 349.4 835 350.5C820.8 351.6 806.7 351.9 790 352C773.3 352.1 750 351.4 735 351C720 350.6 705.8 349.8 700 349.5Z" fill="#fff"/>
<path d="M627 304.5L702 305L730 350L650 350Z" fill="#f4f4f4"/>
<path d="M700 363C705.8 363.3 720.8 364.7 735 365C749.2 365.3 768.3 366 785 365C801.7 364 819.9 361.9 835 359C850.1 356.1 864.7 348.5 875.5 347.5C886.3 346.5 892.9 350.3 900 353C907.1 355.7 915 361.8 918 363.6L918 363.6C916.3 364.2 916.2 364.7 908 367.5C899.8 370.3 885.3 376.3 869 380.5C852.7 384.7 831.5 389.9 810 392.5C788.5 395.1 758.3 395.4 740 396C721.7 396.6 706.7 396 700 396Z" fill="url(#gW1)"/>
<path d="M700 363C705.8 363.3 720.8 364.7 735 365C749.2 365.3 768.3 366 785 365C801.7 364 819.9 361.9 835 359C850.1 356.1 864.7 348.5 875.5 347.5C886.3 346.5 892.9 350.3 900 353C907.1 355.7 915 361.8 918 363.6L918 363.6C916.3 364.2 916.2 364.7 908 367.5C899.8 370.3 885.3 376.3 869 380.5C852.7 384.7 831.5 389.9 810 392.5C788.5 395.1 758.3 395.4 740 396C721.7 396.6 706.7 396 700 396Z" fill="url(#gW1r)"/>
<path d="M700 412C706.7 411.9 721.7 412 740 411.5C758.3 411 785.8 412.1 810 409C834.2 405.9 865 398.7 885 393C905 387.3 922.5 378 930 375L928 386C920.8 389.7 904.7 401.8 885 408C865.3 414.2 834.2 420.2 810 423C785.8 425.8 758.3 424.2 740 424.5C721.7 424.8 706.7 424.9 700 425Z" fill="url(#gW2)"/>
<path d="M700 412C706.7 411.9 721.7 412 740 411.5C758.3 411 785.8 412.1 810 409C834.2 405.9 865 398.7 885 393C905 387.3 922.5 378 930 375L928 386C920.8 389.7 904.7 401.8 885 408C865.3 414.2 834.2 420.2 810 423C785.8 425.8 758.3 424.2 740 424.5C721.7 424.8 706.7 424.9 700 425Z" fill="url(#gW2r)"/>
<path d="M700 450C707.8 449.7 728.7 449.2 747 448C765.3 446.8 789.2 446 810 443C830.8 440 856.2 434.8 872 430C887.8 425.2 899.5 416.7 905 414L890 430C885 432.3 873.3 439.8 860 444C846.7 448.2 828.8 452.3 810 455C791.2 457.7 765.3 458.8 747 460C728.7 461.2 707.8 461.7 700 462Z" fill="url(#gW3)"/>
<path d="M612 402L634 401L641 418L657 446L675 466L686 480L662 480L646 466L634 442L622 420Z" fill="url(#gS)"/>
<path d="M501.8 427C502 421.2 503.4 413.2 505.5 407.5C507.6 401.8 511.2 396.5 514.5 392.5C517.8 388.5 520.8 386.5 525 383.5C529.2 380.5 535 376.8 540 374.5C545 372.2 550 370.6 555 370C560 369.4 565 369.8 570 370.8C575 371.8 580 372.9 585 376C590 379.1 595.8 384.8 600 389.5C604.2 394.2 607.2 399 610.5 404.5C613.8 410 616.2 415.2 619.5 422.5C622.8 429.8 626.8 440.2 630 448C633.2 455.8 636.5 463.5 639 469C641.5 474.5 651.5 478.7 645 481C638.5 483.3 615 483 600 483C585 483 566.2 482.4 555 481C543.8 479.6 539.5 478.1 532.5 474.5C525.5 470.9 517.8 464.9 513 459.5C508.2 454.1 505.9 447.4 504 442C502.1 436.6 501.5 432.8 501.8 427Z" fill="#0a0a0a"/>
<path d="M501.8 427C502 421.2 503.4 413.2 505.5 407.5C507.6 401.8 511.2 396.5 514.5 392.5C517.8 388.5 520.8 386.5 525 383.5C529.2 380.5 535 376.8 540 374.5C545 372.2 550 370.6 555 370C560 369.4 565 369.8 570 370.8C575 371.8 580 372.9 585 376C590 379.1 595.8 384.8 600 389.5C604.2 394.2 607.2 399 610.5 404.5C613.8 410 616.2 415.2 619.5 422.5C622.8 429.8 626.8 440.2 630 448C633.2 455.8 636.5 463.5 639 469C641.5 474.5 651.5 478.7 645 481C638.5 483.3 615 483 600 483C585 483 566.2 482.4 555 481C543.8 479.6 539.5 478.1 532.5 474.5C525.5 470.9 517.8 464.9 513 459.5C508.2 454.1 505.9 447.4 504 442C502.1 436.6 501.5 432.8 501.8 427Z" fill="url(#gFanO)"/>
<path d="M570 370.5C567.5 370.4 560 369.3 555 370C550 370.7 545 372.2 540 374.5C535 376.8 529.2 380.5 525 383.5C520.8 386.5 517.8 388.5 514.5 392.5C511.2 396.5 507.6 401.8 505.5 407.5C503.4 413.2 502 421.2 501.8 427C501.5 432.8 502.1 436.6 504 442C505.9 447.4 508.2 454.1 513 459.5C517.8 464.9 525.5 470.9 532.5 474.5C539.5 478.1 551.2 479.9 555 481" fill="none" stroke="#0c0c0c" stroke-width="2.2"/>
<path d="M548 374.5C545 376 535 380.2 530 383.5C525 386.8 521.5 389.9 518 394C514.5 398.1 511.2 403 509 408C506.8 413 505.7 421.3 505 424" fill="none" stroke="#d8d8d8" stroke-width="1.6" stroke-opacity="0.7" filter="url(#b1)"/>
<path d="M522 396C522.8 394.5 524 389.7 527 387C530 384.3 535.3 381.6 540 380C544.7 378.4 548.8 377.7 555 377.5C561.2 377.3 570.5 376.5 577.5 379C584.5 381.5 591.8 387.2 597 392.5C602.2 397.8 605.5 404.2 609 410.5C612.5 416.8 615.2 423.1 618 430C620.8 436.9 624.7 448.3 626 452L612 448C611 445.3 608.3 437.3 606 432C603.7 426.7 601 421.3 598 416C595 410.7 592.2 404.4 588 400C583.8 395.6 578.5 391.7 573 389.5C567.5 387.3 561.2 386.2 555 387C548.8 387.8 539.8 391.5 535.5 394C531.2 396.5 530.1 400.7 529 402Z" fill="#1b1b1b"/>
<ellipse cx="566" cy="439" rx="39" ry="36" fill="#1a1a1a" transform="rotate(30 566 439)"/>
<ellipse cx="567" cy="440" rx="37.5" ry="34.5" fill="url(#gFanI)" transform="rotate(30 567 440)"/>
<path d="M527.5 405L534 398.500L542 406.500L533 414.500Z" fill="#e4e4e4" filter="url(#b1)" opacity="0.9"/>
<path d="M573 398.500L591 400L597 415L588 419.500L579 407.500Z" fill="#0c0c0c"/>
<path d="M585 440L603 433L615 451L626 473L600 470L591 455Z" fill="url(#gFanL)"/>
<path d="M604.500 441L611 440L617 455L610 458Z" fill="#0a0a0a"/>
<path d="M615 455L621 453.500L623 461L617 463Z" fill="#e0e0e0" filter="url(#b2)"/>
<path d="M546 415C550 413 555 414 558 416.500C560 421 561 426 562.500 430C566 436 569 441 573 445C577 449 581 451 585 452.500C589 454.500 593 456 597 457L592.500 462C587 461 582 459 577.500 457C571 454 566 450 562.500 445C558 441 555 436 552 430C549 426 547 422 546 418Z" fill="#141414"/>
<path d="M570 461.500C575 464 580 466 585 467.500C592 470 600 472 607.500 473.500C614 474.500 621 475 627 475L624 478C616 478 608 477.500 600 476.500C593 475 586 473 579 470.500C575 468.500 572 466.500 569 464Z" fill="#101010"/>
<path d="M627 305L648 306C649.3 310 652.7 320.7 656 330C659.3 339.3 663.7 351.3 668 362C672.3 372.7 677 384 682 394C687 404 692.7 414.7 698 422C703.3 429.3 708.7 434.3 714 438C719.3 441.7 724.3 444 730 444C735.7 444 745 439 748 438C747 450 743 460 737 469C731 477 722 482 710 483L690 483L690 482.5C687.3 479.8 679.7 472.1 674 466C668.3 459.9 661.7 454 656 446C650.3 438 644.7 428 640 418C635.3 408 631.3 396.3 628 386C624.7 375.7 619 367.7 620 356C621 344.3 631.7 322.7 634 316Z" fill="url(#gGrip)"/>
<path d="M648 306L700 306L728 348L714 356L718 380L730 410L748 437L748 438C745 439 735.7 444 730 444C724.3 444 719.3 441.7 714 438C708.7 434.3 703.3 429.3 698 422C692.7 414.7 687 404 682 394C677 384 672.3 372.7 668 362C663.7 351.3 659.3 339.3 656 330C652.7 320.7 649.3 310 648 306Z" fill="url(#gGrip2)"/>
<path d="M648 306C649.3 310 652.7 320.7 656 330C659.3 339.3 663.7 351.3 668 362C672.3 372.7 677 384 682 394C687 404 692.7 414.7 698 422C703.3 429.3 708.7 434.3 714 438C719.3 441.7 724.3 444 730 444C735.7 444 745 439 748 438" fill="none" stroke="#d8d8d8" stroke-width="1" stroke-opacity="0.8"/>
<path d="M510 252H545V266Q545 276 535 276H520Q510 276 510 266Z" fill="#f6f6f6"/>
<path d="M511 236C507 242 506.500 250 507 258V264Q507 277.500 520 277.500H534Q547 277.500 547 264V240" fill="none" stroke="#1e1e1e" stroke-width="2.4" stroke-linecap="round"/>
<path d="M514 272.500H541" fill="none" stroke="#b0b0b0" stroke-width="2.5"/>
<rect x="588" y="232.500" width="105" height="33.500" rx="14" fill="url(#gSl)"/>
<path d="M608 249H692.500Q693 258 686 263Q682 266 676 266H604Q606 258 608 249Z" fill="#dedede"/>
<path d="M602 232.500H679Q693 232.500 693 249" fill="none" stroke="#2a2a2a" stroke-width="1.6"/>
<path d="M693 249Q693 266 679 266H602Q588 266 588 249Q588 232.500 602 232.500" fill="none" stroke="#3a3a3a" stroke-width="1.4"/>
<path d="M693 250Q693 266.500 679 266.500H606" fill="none" stroke="#f4f4f4" stroke-width="1.4"/>
<path d="M592 240Q596 236 602 236L606 262Q598 262 593 256Z" fill="#333" opacity="0.8" filter="url(#b1)"/>
<path d="M594 238L598 237L598 243L594 244Z" fill="#eee" filter="url(#b1)"/>
<path d="M620 234.500L611 244L623 260M634.3 234.500L625.3 244L637.3 260M648.6 234.500L639.6 244L651.6 260M662.9 234.500L653.9 244L665.9 260M677.2 234.500L668.2 244L680.2 260" fill="none" stroke="#666" stroke-width="3.4" stroke-linejoin="round" opacity="0.5"/>
<path d="M620 234.500L611 244L623 260M634.3 234.500L625.3 244L637.3 260M648.6 234.500L639.6 244L651.6 260M662.9 234.500L653.9 244L665.9 260M677.2 234.500L668.2 244L680.2 260" fill="none" stroke="#f2f2f2" stroke-width="2" stroke-linejoin="round"/>
<path d="M454 425C454.3 427.5 455 435 456 440C457 445 458.3 450.3 460 455C461.7 459.7 463.8 464 466 468C468.2 472 471.8 477.2 473 479" fill="none" stroke="#0c0c0c" stroke-width="2.4"/>
</g>
</g>
<path d="M159 358C161.5 365 168.5 388.3 174 400C179.5 411.7 186.3 422.3 192 428C197.7 433.7 203 437 208 434C213 431 217.7 421 222 410C226.3 399 229.7 382.2 234 368C238.3 353.8 243.3 336.7 248 325C252.7 313.3 257.3 303.5 262 298C266.7 292.5 271 291.7 276 292C281 292.3 286.3 295.3 292 300C297.7 304.7 304 310.8 310 320C316 329.2 322.3 343.7 328 355C333.7 366.3 341.3 382.5 344 388" fill="none" stroke="url(#hw0)" stroke-width="8.5" filter="url(#b1g)"/>
<path d="M159 358C161.5 365 168.5 388.3 174 400C179.5 411.7 186.3 422.3 192 428C197.7 433.7 203 437 208 434C213 431 217.7 421 222 410C226.3 399 229.7 382.2 234 368C238.3 353.8 243.3 336.7 248 325C252.7 313.3 257.3 303.5 262 298C266.7 292.5 271 291.7 276 292C281 292.3 286.3 295.3 292 300C297.7 304.7 304 310.8 310 320C316 329.2 322.3 343.7 328 355C333.7 366.3 341.3 382.5 344 388" fill="none" stroke="url(#hb0)" stroke-width="4.6" filter="url(#b1)"/>
<path d="M268 306C269 311.7 271.3 327.7 274 340C276.7 352.3 279.7 367.3 284 380C288.3 392.7 294.7 408 300 416C305.3 424 311 426.3 316 428C321 429.7 325 430 330 426C335 422 341 414.7 346 404C351 393.3 355.3 377.3 360 362C364.7 346.7 369.3 325.7 374 312C378.7 298.3 385.7 285.3 388 280" fill="none" stroke="url(#hw1)" stroke-width="8.5" filter="url(#b1g)"/>
<path d="M268 306C269 311.7 271.3 327.7 274 340C276.7 352.3 279.7 367.3 284 380C288.3 392.7 294.7 408 300 416C305.3 424 311 426.3 316 428C321 429.7 325 430 330 426C335 422 341 414.7 346 404C351 393.3 355.3 377.3 360 362C364.7 346.7 369.3 325.7 374 312C378.7 298.3 385.7 285.3 388 280" fill="none" stroke="url(#hb1)" stroke-width="4.6" filter="url(#b1)"/>
<path d="M159 374C160.7 369.2 164.5 353.7 169 345C173.5 336.3 180.8 327.2 186 322C191.2 316.8 195.8 312.7 200 314C204.2 315.3 207.8 322.3 211 330C214.2 337.7 215.8 348.3 219 360C222.2 371.7 225.5 389.3 230 400C234.5 410.7 240.3 419.2 246 424C251.7 428.8 258 432.2 264 429C270 425.8 276.8 415.2 282 405C287.2 394.8 290.3 382.5 295 368C299.7 353.5 305 331.7 310 318C315 304.3 320 293 325 286C330 279 334.8 278 340 276C345.2 274 350.7 274 356 274C361.3 274 369.3 275.7 372 276" fill="none" stroke="url(#hw2)" stroke-width="8.5" filter="url(#b1g)"/>
<path d="M159 374C160.7 369.2 164.5 353.7 169 345C173.5 336.3 180.8 327.2 186 322C191.2 316.8 195.8 312.7 200 314C204.2 315.3 207.8 322.3 211 330C214.2 337.7 215.8 348.3 219 360C222.2 371.7 225.5 389.3 230 400C234.5 410.7 240.3 419.2 246 424C251.7 428.8 258 432.2 264 429C270 425.8 276.8 415.2 282 405C287.2 394.8 290.3 382.5 295 368C299.7 353.5 305 331.7 310 318C315 304.3 320 293 325 286C330 279 334.8 278 340 276C345.2 274 350.7 274 356 274C361.3 274 369.3 275.7 372 276" fill="none" stroke="url(#hb2)" stroke-width="4.6" filter="url(#b1)"/>
<g filter="url(#b1)">
<path d="M214 292.5L240 292.5L238.5 288.3L252 297L238.5 305.7L240 301.5L214 301.5Z" fill="url(#ga44)"/>
<path d="M136 317.5L161 317.5L159.5 313.3L173 322L159.5 330.7L161 326.5L136 326.5Z" fill="url(#ga45)"/>
<path d="M136 363.5L160.5 363.5L159 359.3L172.5 368L159 376.7L160.5 372.5L136 372.5Z" fill="url(#ga46)"/>
<path d="M136 407.5L161 407.5L159.5 403.3L173 412L159.5 420.7L161 416.5L136 416.5Z" fill="url(#ga47)"/>
<path d="M224 328.5L249 328.5L247.5 324.3L261 333L247.5 341.7L249 337.5L224 337.5Z" fill="url(#ga48)"/>
<path d="M226 375L249 375L247.5 370.8L261 379.5L247.5 388.2L249 384L226 384Z" fill="url(#ga49)"/>
<path d="M226 419.5L248 419.5L246.5 415.3L260 424L246.5 432.7L248 428.5L226 428.5Z" fill="url(#ga50)"/>
<path d="M294 301.5L316 301.5L314.5 297.3L328 306L314.5 314.7L316 310.5L294 310.5Z" fill="url(#ga51)"/>
<path d="M304 357.5L325 357.5L323.5 353.3L337 362L323.5 370.7L325 366.5L304 366.5Z" fill="url(#ga52)"/>
<path d="M304 406.5L326 406.5L324.5 402.3L338 411L324.5 419.7L326 415.5L304 415.5Z" fill="url(#ga53)"/>
<path d="M304 446.5L325 446.5L323.5 442.3L337 451L323.5 459.7L325 455.5L304 455.5Z" fill="url(#ga54)"/>
<path d="M346 282.5L372 282.5L370.5 278.3L384 287L370.5 295.7L372 291.5L346 291.5Z" fill="url(#ga55)"/>
<path d="M358 337.5L382 337.5L380.5 333.3L394 342L380.5 350.7L382 346.5L358 346.5Z" fill="url(#ga56)"/>
<path d="M362 387.5L384 387.5L382.5 383.3L396 392L382.5 400.7L384 396.5L362 396.5Z" fill="url(#ga57)"/>
<path d="M358 436.5L382 436.5L380.5 432.3L394 441L380.5 449.7L382 445.5L358 445.5Z" fill="url(#ga58)"/>
<path d="M418 263.5L444 263.5L442.5 259.3L456 268L442.5 276.7L444 272.5L418 272.5Z" fill="url(#ga59)"/>
<path d="M426 319L454 319L452.5 314.8L466 323.5L452.5 332.2L454 328L426 328Z" fill="url(#ga60)"/>
<path d="M426 369L454 369L452.5 364.8L466 373.5L452.5 382.2L454 378L426 378Z" fill="url(#ga61)"/>
<path d="M426 418.5L453 418.5L451.5 414.3L465 423L451.5 431.7L453 427.5L426 427.5Z" fill="url(#ga62)"/>
<path d="M492 346L516 346L514.5 341.8L528 350.5L514.5 359.2L516 355L492 355Z" fill="url(#ga63)"/>
<path d="M500 415.5L523 415.5L521.5 411.3L535 420L521.5 428.7L523 424.5L500 424.5Z" fill="url(#ga64)"/>
<path d="M487 254.5L513 254.5L511.5 250.3L525 259L511.5 267.7L513 263.5L487 263.5Z" fill="url(#ga65)" transform="rotate(-31 525 259)"/>
<path d="M520 300L602 293L601 266L634.5 319L610 373L604 348L540 351Z" fill="url(#gBig)"/>
</g>
<g id="leaders" fill="none" stroke="#000">
<path d="M194 391V820" stroke-width="1.9"/>
<path d="M417 431V624" stroke-width="1.9"/>
<path d="M332 367L412 426L417 432" stroke-width="1.2"/>
<path d="M633 418V767H838V897" stroke-width="1.9"/>
<path d="M460 340L630 415L633 419" stroke-width="1.2"/>
</g>
<g class="t1" opacity="0.996">
<text y="66"><tspan x="174.2" textLength="84.8" lengthAdjust="spacingAndGlyphs">More</tspan> <tspan x="268.2" textLength="124.8" lengthAdjust="spacingAndGlyphs">Efficient</tspan> <tspan x="403" textLength="70.5" lengthAdjust="spacingAndGlyphs">Dust</tspan> <tspan x="483.7" textLength="133.7" lengthAdjust="spacingAndGlyphs">Removal</tspan> <tspan x="626.9" textLength="79.9" lengthAdjust="spacingAndGlyphs">Filter</tspan> <tspan x="716.3" textLength="111" lengthAdjust="spacingAndGlyphs">System</tspan></text>
<text y="125.8"><tspan x="32.5" textLength="72.1" lengthAdjust="spacingAndGlyphs">Fully</tspan> <tspan x="114.1" textLength="140.8" lengthAdjust="spacingAndGlyphs">intercept</tspan> <tspan x="264.8" textLength="77.5" lengthAdjust="spacingAndGlyphs">dust,</tspan> <tspan x="351.7" textLength="131.8" lengthAdjust="spacingAndGlyphs">particles</tspan> <tspan x="493.4" textLength="32" lengthAdjust="spacingAndGlyphs">to</tspan> <tspan x="535.1" textLength="119.5" lengthAdjust="spacingAndGlyphs">prevent</tspan> <tspan x="665.2" textLength="159" lengthAdjust="spacingAndGlyphs">secondary</tspan> <tspan x="834" textLength="135.5" lengthAdjust="spacingAndGlyphs">diffusion</tspan></text>
</g>
<g class="t2" opacity="0.996">
<text y="658.5"><tspan x="387.5" textLength="49.9" lengthAdjust="spacingAndGlyphs">Filter</tspan></text>
<text y="688.2"><tspan x="284.2" textLength="50" lengthAdjust="spacingAndGlyphs">Filter</tspan> <tspan x="339.8" textLength="69.4" lengthAdjust="spacingAndGlyphs">PM2.5,</tspan> <tspan x="414.6" textLength="48.6" lengthAdjust="spacingAndGlyphs">dust,</tspan> <tspan x="468.2" textLength="66.8" lengthAdjust="spacingAndGlyphs">insects</tspan></text>
<text y="718.2"><tspan x="260.7" textLength="36.2" lengthAdjust="spacingAndGlyphs">and</tspan> <tspan x="302.8" textLength="53.5" lengthAdjust="spacingAndGlyphs">other</tspan> <tspan x="362.3" textLength="82.5" lengthAdjust="spacingAndGlyphs">particles</tspan> <tspan x="450.5" textLength="20.8" lengthAdjust="spacingAndGlyphs">or</tspan> <tspan x="477.4" textLength="87.1" lengthAdjust="spacingAndGlyphs">moisture</tspan></text>
<text y="849.4"><tspan x="85.6" textLength="194.3" lengthAdjust="spacingAndGlyphs">Anti-countercurrent</tspan></text>
<text y="879.1"><tspan x="93.8" textLength="41.9" lengthAdjust="spacingAndGlyphs">dust</tspan> <tspan x="141.6" textLength="94.5" lengthAdjust="spacingAndGlyphs">collection</tspan> <tspan x="241.6" textLength="35.5" lengthAdjust="spacingAndGlyphs">cup</tspan></text>
<text y="909.1"><tspan x="44.3" textLength="66.7" lengthAdjust="spacingAndGlyphs">Collect</tspan> <tspan x="117.2" textLength="55.7" lengthAdjust="spacingAndGlyphs">larger</tspan> <tspan x="179.1" textLength="82.4" lengthAdjust="spacingAndGlyphs">particles</tspan> <tspan x="267.4" textLength="36.2" lengthAdjust="spacingAndGlyphs">and</tspan> <tspan x="309.8" textLength="9.6" lengthAdjust="spacingAndGlyphs">a</tspan></text>
<text y="939.1"><tspan x="35.3" textLength="50.5" lengthAdjust="spacingAndGlyphs">small</tspan> <tspan x="91.7" textLength="76.2" lengthAdjust="spacingAndGlyphs">amount</tspan> <tspan x="173.6" textLength="19.6" lengthAdjust="spacingAndGlyphs">of</tspan> <tspan x="199.3" textLength="76.7" lengthAdjust="spacingAndGlyphs">residual</tspan> <tspan x="282.1" textLength="54.1" lengthAdjust="spacingAndGlyphs">liquid</tspan></text>
<text y="919.2"><tspan x="689.7" textLength="131.7" lengthAdjust="spacingAndGlyphs">Turbocharger</tspan> <tspan x="827.3" textLength="75.5" lengthAdjust="spacingAndGlyphs">booster</tspan> <tspan x="908.6" textLength="31.3" lengthAdjust="spacingAndGlyphs">fan</tspan></text>
<text y="949.2"><tspan x="657.9" textLength="57.4" lengthAdjust="spacingAndGlyphs">120W</tspan> <tspan x="721.2" textLength="87.7" lengthAdjust="spacingAndGlyphs">powerful</tspan> <tspan x="815" textLength="74.9" lengthAdjust="spacingAndGlyphs">booster</tspan> <tspan x="895.7" textLength="31" lengthAdjust="spacingAndGlyphs">fan</tspan> <tspan x="932.7" textLength="32.8" lengthAdjust="spacingAndGlyphs">has</tspan></text>
<text y="979.2"><tspan x="647.9" textLength="55.5" lengthAdjust="spacingAndGlyphs">faster</tspan> <tspan x="709.4" textLength="58.1" lengthAdjust="spacingAndGlyphs">speed</tspan> <tspan x="773.5" textLength="36.3" lengthAdjust="spacingAndGlyphs">and</tspan> <tspan x="815.6" textLength="14.8" lengthAdjust="spacingAndGlyphs">is</tspan> <tspan x="836.4" textLength="51.6" lengthAdjust="spacingAndGlyphs">more</tspan> <tspan x="893.8" textLength="87.6" lengthAdjust="spacingAndGlyphs">powerful</tspan></text>
</g>
</svg>
</body>
</html>
